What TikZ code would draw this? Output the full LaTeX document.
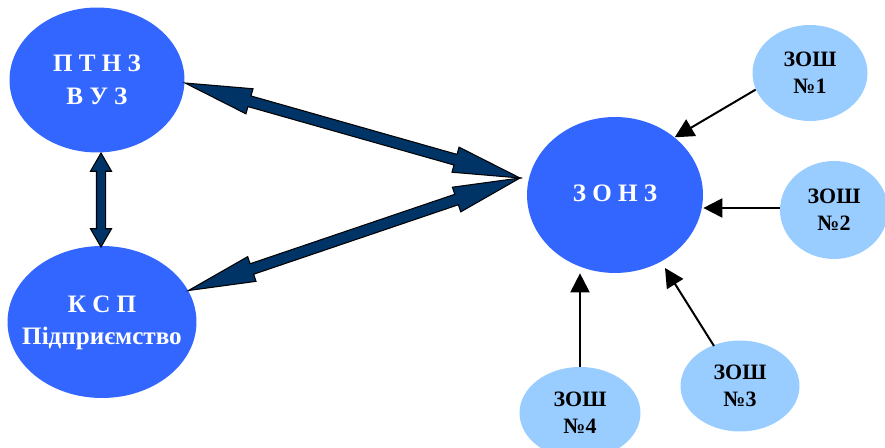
\documentclass[tikz,border=0pt]{standalone}
\usepackage{fontspec}
\setmainfont{Liberation Serif}
\usetikzlibrary{shapes.geometric,shapes.arrows,arrows.meta,calc}
\definecolor{hubblue}{HTML}{3366FF}
\definecolor{schoolblue}{HTML}{99CCFF}
\definecolor{navyarrow}{HTML}{003366}
\tikzset{
  bigoval/.style={ellipse, fill=hubblue, text=white, align=center, inner sep=0pt,
    font=\fontsize{14.3}{18.5}\selectfont\bfseries},
  schooloval/.style={ellipse, fill=schoolblue, text=black, align=center, inner sep=0pt,
    font=\fontsize{12.5}{15.3}\selectfont\bfseries},
  fatarrow/.style={double arrow, fill=navyarrow, draw=black, line width=0.6pt,
    inner xsep=0pt, inner ysep=0.1cm, double arrow head extend=0.15cm,
    double arrow tip angle=22},
  shortfat/.style={fatarrow, inner ysep=0.08cm, double arrow head extend=0.12cm,
    double arrow tip angle=60},
  feed/.style={draw=black, line width=0.04cm, -{Triangle[length=0.38cm,width=0.38cm]}}
}
% fat double arrow between two points
\newcommand{\fatlink}[3][fatarrow]{%
  \path let \p1=(#2), \p2=(#3), \n1={atan2(\y2-\y1,\x2-\x1)}, \n2={veclen(\x2-\x1,\y2-\y1)} in
    node[#1, minimum height=\n2, rotate=\n1] at ($(#2)!0.5!(#3)$) {};}
\begin{document}
\begin{tikzpicture}[x=0.02cm,y=-0.02cm]
  \useasboundingbox (0,0) rectangle (885,448);
  % left ovals
  \node[bigoval, minimum width=3.5cm, minimum height=2.9cm] (ptnz) at (97,80) {П Т Н З\\В У З};
  \node[bigoval, minimum width=3.78cm, minimum height=3.04cm] (ksp) at (102,322)
    {\makebox[0pt]{\begin{tabular}{@{}c@{}}К С П\\Підприємство\end{tabular}}};
  % central oval
  \node[bigoval, minimum width=3.52cm, minimum height=3.12cm] (zonz) at (615,195) {\raisebox{0.08cm}{З О Н З}};
  % schools
  \node[schooloval, minimum width=2.3cm, minimum height=1.92cm] (zosh1) at (810,73) {ЗОШ\\№1};
  \node[schooloval, minimum width=2.16cm, minimum height=1.96cm] (zosh2) at (834,210) {ЗОШ\\№2};
  \node[schooloval, minimum width=2.38cm, minimum height=1.82cm] (zosh3) at (740,386) {ЗОШ\\№3};
  \node[schooloval, minimum width=2.42cm, minimum height=1.84cm] (zosh4) at (580,413) {ЗОШ\\№4};
  % meeting point of the fat arrows
  \coordinate (hub) at (520,178);
  \coordinate (ptnzout) at (185,83);
  \coordinate (vtop) at (101,153);
  \coordinate (vbot) at (101,247);
  \fatlink{ptnzout}{hub}
  \fatlink{ksp.20}{hub}
  \fatlink[shortfat]{vtop}{vbot}
  % thin arrows from the schools
  \draw[feed] (zosh1.197) -- (zonz.44);
  \draw[feed] (zosh2.west |- 0,208) -- (zonz.east |- 0,208);
  \coordinate (z3) at (714,346);
  \draw[feed] (z3) -- (665,268);
  \draw[feed] (zosh4.north) -- (zonz.south -| zosh4.north);
\end{tikzpicture}
\end{document}
